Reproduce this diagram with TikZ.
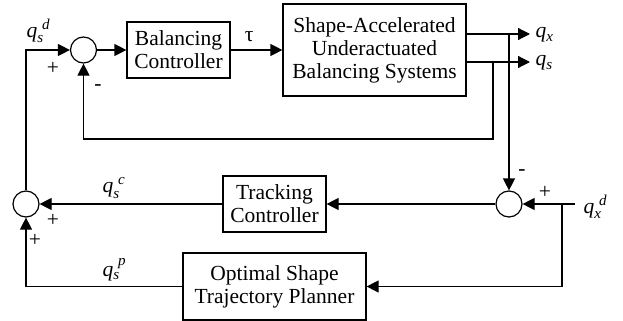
\documentclass[tikz,border=0pt]{standalone}
\usepackage{fontspec}
\setmainfont{Liberation Serif}
\usetikzlibrary{arrows.meta}

\begin{document}
\begin{tikzpicture}[%
        x = 0.5pt,
        y = -0.5pt,
        font = \fontsize{10.75}{11.5}\selectfont,
        > = {Triangle[length=6pt, width=6pt]},
        line width = 0.6pt,
        block/.style = {draw, align = center, inner sep = 0pt},
        sum/.style = {draw, circle, minimum size = 13pt, inner sep = 0pt},
        sgn/.style = {inner sep = 0pt}
    ]

        \useasboundingbox (0, 0) rectangle (623, 321);

        % Summing junctions.
        \node[sum] (sumtop) at (83.5, 50) {};
        \node[sum] (sumleft) at (26, 204) {};
        \node[sum] (sumright) at (509, 204) {};

        % Blocks of the loop.
        \node[block, minimum width = 51.5pt, minimum height = 28pt]
            (bal) at (178.5, 50) {Balancing\\Controller};
        \node[block, minimum width = 91.5pt, minimum height = 46pt]
            (plant) at (374.5, 50) {Shape-Accelerated\\Underactuated\\Balancing Systems};
        \node[block, minimum width = 51.5pt, minimum height = 28pt]
            (track) at (274.5, 204) {Tracking\\Controller};
        \node[block, minimum width = 91.5pt, minimum height = 33.5pt]
            (opt) at (274.5, 286.5) {Optimal Shape\\Trajectory Planner};

        % Outputs, taps and the reference input.
        \coordinate (qxout) at (530, 34);
        \coordinate (qsout) at (530, 62);
        \coordinate (qxtap) at (509, 34);
        \coordinate (qstap) at (493, 62);
        \coordinate (fbturn) at (493, 139);
        \coordinate (qxin) at (575, 204);
        \coordinate (qxsplit) at (562, 204);

        % Inner balancing loop.
        \draw[->] (sumtop) to (bal);
        \draw[->] (bal) to node[above, pos = 0.36, yshift = 0.5pt] (tau) {τ} (plant);
        \draw[->] (plant.east |- qxout) to (qxout);
        \draw[->] (plant.east |- qsout) to (qsout);
        \draw[->] (qstap) to (fbturn) -| (sumtop);

        % Outer tracking loop.
        \draw[->] (qxtap) to (sumright);
        \draw[->] (qxin) to (sumright);
        \draw[->] (sumright) to (track);
        \draw[->] (track) to (sumleft);
        \draw[->] (qxsplit) |- (opt);
        \draw[->] (opt) -| (sumleft);
        \draw[->] (sumleft) |- (sumtop);

        % Signal names.
        \node[sgn, anchor = west] (qsd) at (26, 31) {$\mathit{q}_{\mathit{s}}^{\;\mathit{d}}$};
        \node[sgn, anchor = west] (qx) at (535, 35) {$\mathit{q}_{\mathit{x}}$};
        \node[sgn, anchor = west] (qs) at (535, 63) {$\mathit{q}_{\mathit{s}}$};
        \node[sgn, anchor = west] (qxd) at (583, 207) {$\mathit{q}_{\mathit{x}}^{\;\mathit{d}}$};
        \node[sgn, anchor = west] (qsc) at (102, 188) {$\mathit{q}_{\mathit{s}}^{\;\mathit{c}}$};
        \node[sgn, anchor = west] (qsp) at (102, 270) {$\mathit{q}_{\mathit{s}}^{\;\mathit{p}}$};

        % Signs at the junctions.
        \node[sgn] (ptop) at (53, 68) {+};
        \node[sgn] (mtop) at (98, 88) {-};
        \node[sgn] (mright) at (522, 173) {-};
        \node[sgn] (pright) at (545, 192) {+};
        \node[sgn] (pleft) at (53, 220) {+};
        \node[sgn] (pbottom) at (35, 240) {+};
    \end{tikzpicture}
\end{document}
